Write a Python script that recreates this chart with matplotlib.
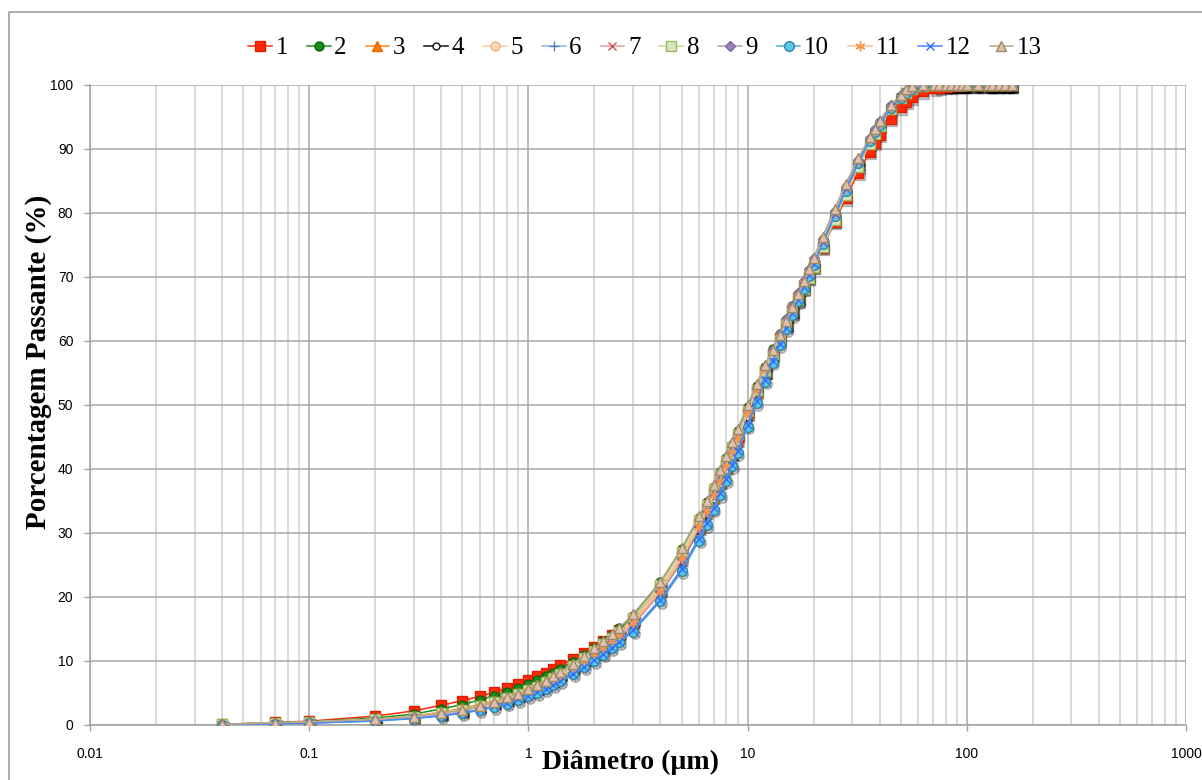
import matplotlib
matplotlib.use("Agg")
import matplotlib.pyplot as plt
import matplotlib.transforms as mtransforms
from matplotlib.lines import Line2D
from matplotlib.ticker import LogLocator, NullFormatter

# Particle size classes (µm)
diametro = [0.04, 0.07, 0.1, 0.2, 0.3, 0.4, 0.5, 0.6, 0.7, 0.8,
            0.9, 1.0, 1.1, 1.2, 1.3, 1.4, 1.6, 1.8, 2.0, 2.2,
            2.4, 2.6, 3.0, 4.0, 5.0, 6.0, 6.5, 7.0, 7.5, 8.0,
            8.5, 9.0, 10, 11, 12, 13, 14, 15, 16, 17,
            18, 19, 20, 22, 25, 28, 32, 36, 38, 40,
            45, 50, 53, 56, 63, 71, 75, 80, 85, 90,
            95, 100, 112, 125, 130, 140, 150, 160]

# Cumulative passing (%) for each sample
s1 = [0.1, 0.4, 0.6, 1.4, 2.2, 3.1, 3.8, 4.5, 5.1, 5.8,
      6.4, 7.0, 7.6, 8.2, 8.8, 9.3, 10.3, 11.3, 12.2, 13.1,
      14.0, 14.9, 16.7, 21.4, 26.4, 31.4, 33.8, 36.2, 38.5, 40.7,
      42.9, 45.0, 48.9, 52.3, 55.3, 58.0, 60.5, 62.7, 64.7, 66.6,
      68.4, 70.0, 71.6, 74.6, 78.6, 82.3, 86.3, 89.6, 91.0, 92.2,
      94.7, 96.5, 97.4, 98.1, 99.0, 99.5, 99.6, 99.7, 99.8, 99.9,
      100, 100, 100, 100, 100, 100, 100, 100]
s2 = [0.1, 0.35, 0.5, 1.1, 1.7, 2.5, 3.2, 3.9, 4.6, 5.2,
      5.8, 6.4, 7.0, 7.6, 8.2, 8.8, 9.9, 11.0, 12.1, 13.1,
      14.1, 15.1, 17.1, 22.3, 27.5, 32.4, 34.8, 37.2, 39.5, 41.7,
      43.8, 45.9, 49.7, 53.0, 56.0, 58.7, 61.1, 63.3, 65.4, 67.3,
      69.2, 71.0, 72.7, 75.8, 80.0, 83.8, 88.0, 91.4, 92.8, 94.0,
      96.5, 98.2, 98.9, 99.4, 99.9, 100, 100, 100, 100, 100,
      100, 100, 100, 100, 100, 100, 100, 100]
s3 = [0.1, 0.3, 0.45, 0.9, 1.4, 2.0, 2.6, 3.2, 3.8, 4.4,
      5.0, 5.6, 6.2, 6.8, 7.4, 8.0, 9.1, 10.2, 11.3, 12.3,
      13.3, 14.2, 16.1, 21.0, 26.0, 30.9, 33.3, 35.7, 38.0, 40.3,
      42.5, 44.6, 48.6, 52.1, 55.2, 57.9, 60.4, 62.7, 64.8, 66.8,
      68.7, 70.5, 72.2, 75.4, 79.7, 83.6, 87.9, 91.3, 92.7, 93.9,
      96.4, 98.1, 98.8, 99.3, 99.8, 100, 100, 100, 100, 100,
      100, 100, 100, 100, 100, 100, 100, 100]
s4 = [0.1, 0.3, 0.4, 0.8, 1.3, 1.8, 2.3, 2.9, 3.4, 4.0,
      4.6, 5.2, 5.8, 6.4, 7.0, 7.6, 8.7, 9.8, 10.8, 11.8,
      12.8, 13.8, 15.7, 20.6, 25.6, 30.5, 32.9, 35.3, 37.6, 39.9,
      42.1, 44.2, 48.2, 51.8, 54.9, 57.7, 60.2, 62.5, 64.6, 66.6,
      68.5, 70.3, 72.0, 75.2, 79.5, 83.4, 87.7, 91.1, 92.5, 93.7,
      96.2, 97.9, 98.7, 99.2, 99.8, 100, 100, 100, 100, 100,
      100, 100, 100, 100, 100, 100, 100, 100]
s5 = [0.1, 0.3, 0.45, 0.9, 1.3, 1.9, 2.4, 3.0, 3.6, 4.2,
      4.8, 5.4, 6.0, 6.6, 7.3, 7.9, 9.1, 10.2, 11.3, 12.4,
      13.4, 14.4, 16.4, 21.4, 26.5, 31.5, 33.9, 36.3, 38.6, 40.9,
      43.1, 45.2, 49.1, 52.6, 55.7, 58.5, 61.0, 63.2, 65.3, 67.3,
      69.2, 71.0, 72.7, 75.9, 80.2, 84.0, 88.2, 91.6, 93.0, 94.2,
      96.7, 98.3, 99.0, 99.5, 100, 100, 100, 100, 100, 100,
      100, 100, 100, 100, 100, 100, 100, 100]
s6 = [0.05, 0.2, 0.3, 0.7, 1.1, 1.5, 1.9, 2.4, 2.9, 3.4,
      4.0, 4.6, 5.1, 5.7, 6.3, 6.9, 8.0, 9.1, 10.1, 11.1,
      12.1, 13.1, 14.9, 19.7, 24.5, 29.3, 31.7, 34.1, 36.4, 38.7,
      40.9, 43.0, 47.1, 50.7, 54.0, 56.9, 59.6, 62.0, 64.2, 66.3,
      68.3, 70.2, 72.0, 75.3, 79.7, 83.6, 87.9, 91.3, 92.7, 93.9,
      96.4, 98.0, 98.8, 99.3, 99.9, 100, 100, 100, 100, 100,
      100, 100, 100, 100, 100, 100, 100, 100]
s7 = [0.1, 0.3, 0.4, 0.8, 1.2, 1.7, 2.2, 2.8, 3.3, 3.9,
      4.5, 5.1, 5.7, 6.3, 6.9, 7.5, 8.6, 9.7, 10.7, 11.7,
      12.7, 13.7, 15.6, 20.6, 25.7, 30.7, 33.1, 35.5, 37.9, 40.2,
      42.4, 44.5, 48.5, 52.0, 55.1, 57.9, 60.4, 62.7, 64.8, 66.8,
      68.7, 70.5, 72.2, 75.4, 79.8, 83.7, 88.0, 91.4, 92.8, 94.0,
      96.5, 98.1, 98.9, 99.4, 99.9, 100, 100, 100, 100, 100,
      100, 100, 100, 100, 100, 100, 100, 100]
s8 = [0.1, 0.3, 0.45, 0.9, 1.3, 1.9, 2.4, 3.0, 3.6, 4.2,
      4.8, 5.4, 6.0, 6.7, 7.3, 8.0, 9.2, 10.4, 11.5, 12.6,
      13.6, 14.6, 16.7, 21.9, 27.0, 32.0, 34.4, 36.8, 39.1, 41.3,
      43.4, 45.4, 49.1, 52.4, 55.3, 57.9, 60.3, 62.5, 64.5, 66.4,
      68.2, 69.9, 71.6, 74.7, 78.9, 82.8, 87.2, 90.8, 92.3, 93.6,
      96.2, 97.9, 98.7, 99.3, 99.9, 100, 100, 100, 100, 100,
      100, 100, 100, 100, 100, 100, 100, 100]
s9 = [0.1, 0.3, 0.4, 0.8, 1.2, 1.7, 2.2, 2.8, 3.3, 3.9,
      4.5, 5.1, 5.7, 6.3, 6.9, 7.5, 8.7, 9.8, 10.9, 11.9,
      12.9, 13.9, 15.9, 20.9, 26.0, 31.0, 33.5, 35.9, 38.3, 40.6,
      42.8, 45.0, 49.0, 52.6, 55.8, 58.6, 61.1, 63.4, 65.5, 67.5,
      69.4, 71.2, 72.9, 76.0, 80.3, 84.1, 88.3, 91.7, 93.1, 94.3,
      96.8, 98.4, 99.1, 99.6, 100, 100, 100, 100, 100, 100,
      100, 100, 100, 100, 100, 100, 100, 100]
s10 = [0.05, 0.2, 0.3, 0.6, 1.0, 1.4, 1.8, 2.3, 2.8, 3.3,
       3.9, 4.5, 5.0, 5.6, 6.2, 6.8, 7.9, 9.0, 10.0, 11.0,
       12.0, 12.9, 14.6, 19.3, 24.0, 28.8, 31.2, 33.6, 35.9, 38.2,
       40.4, 42.5, 46.6, 50.3, 53.6, 56.6, 59.3, 61.8, 64.0, 66.2,
       68.2, 70.1, 71.9, 75.2, 79.6, 83.5, 87.8, 91.2, 92.6, 93.8,
       96.4, 98.0, 98.8, 99.3, 99.9, 100, 100, 100, 100, 100,
       100, 100, 100, 100, 100, 100, 100, 100]
s11 = [0.1, 0.3, 0.4, 0.85, 1.3, 1.8, 2.3, 2.9, 3.5, 4.1,
       4.7, 5.3, 5.9, 6.5, 7.1, 7.7, 8.9, 10.0, 11.1, 12.1,
       13.1, 14.1, 16.0, 21.0, 26.1, 31.1, 33.5, 35.9, 38.2, 40.5,
       42.7, 44.8, 48.8, 52.3, 55.4, 58.2, 60.7, 63.0, 65.1, 67.1,
       69.0, 70.8, 72.5, 75.7, 80.0, 83.9, 88.1, 91.5, 92.9, 94.1,
       96.6, 98.2, 99.0, 99.5, 100, 100, 100, 100, 100, 100,
       100, 100, 100, 100, 100, 100, 100, 100]
s12 = [0.05, 0.2, 0.3, 0.65, 1.05, 1.45, 1.9, 2.4, 2.9, 3.4,
       4.0, 4.6, 5.1, 5.7, 6.3, 6.9, 8.0, 9.1, 10.1, 11.1,
       12.1, 13.0, 14.8, 19.5, 24.3, 29.1, 31.5, 33.9, 36.2, 38.5,
       40.7, 42.8, 46.9, 50.6, 53.9, 56.9, 59.6, 62.1, 64.3, 66.4,
       68.4, 70.3, 72.1, 75.4, 79.8, 83.7, 88.0, 91.4, 92.8, 94.0,
       96.5, 98.1, 98.9, 99.4, 99.9, 100, 100, 100, 100, 100,
       100, 100, 100, 100, 100, 100, 100, 100]
s13 = [0.1, 0.35, 0.5, 0.9, 1.3, 1.9, 2.3, 3.0, 3.6, 4.3,
       4.9, 5.6, 6.2, 6.9, 7.6, 8.3, 9.6, 10.8, 12.0, 13.1,
       14.2, 15.2, 17.3, 22.4, 27.6, 32.6, 35.0, 37.5, 39.8, 42.0,
       44.2, 46.2, 50.0, 53.3, 56.3, 58.6, 61.0, 63.2, 65.3, 67.3,
       69.3, 71.2, 73.0, 76.3, 80.7, 84.5, 88.6, 91.8, 93.2, 94.4,
       96.9, 98.5, 99.3, 99.8, 100, 100, 100, 100, 100, 100,
       100, 100, 100, 100, 100, 100, 100, 100]

amostras = ["1", "2", "3", "4", "5", "6", "7", "8", "9", "10", "11", "12", "13"]
series = [s1, s2, s3, s4, s5, s6, s7, s8, s9, s10, s11, s12, s13]

x_ticks = [0.01, 0.1, 1, 10, 100, 1000]
x_ticklabels = ["0.01", "0.1", "1", "10", "100", "1000"]
y_ticks = list(range(0, 101, 10))

# line colour, marker, marker face, marker edge, marker size
estilos = [
    ("#FF2A0A", "s", "#FF2A0A", "#E01E00", 6.5),
    ("#1F8F1F", "o", "#1A8A1A", "#106010", 6.5),
    ("#FF8A1E", "^", "#FF7A00", "#E06A00", 7.0),
    ("#111111", "o", "#FFFFFF", "#111111", 5.0),
    ("#FFCBA0", "o", "#FFD7B5", "#F0B080", 6.5),
    ("#8EB4E3", "+", "#4F81BD", "#4F81BD", 6.5),
    ("#E6A0A0", "x", "#D05050", "#D05050", 6.0),
    ("#C4D79B", "s", "#D7E4BD", "#9BBB59", 6.5),
    ("#B3A2C7", "D", "#9A82BE", "#8064A2", 5.0),
    ("#4BACC6", "o", "#5CC8E8", "#31859C", 7.0),
    ("#FAC090", (6, 2, 0), "#F79646", "#F79646", 7.0),
    ("#4A86FF", "x", "#2F6FFF", "#2F6FFF", 6.0),
    ("#B7A887", "^", "#E2BFB0", "#9C8A64", 7.5),
]

plt.rcParams["font.family"] = ["Liberation Sans", "DejaVu Sans"]
serif = ["Liberation Serif", "DejaVu Serif"]

fig = plt.figure(figsize=(12.02, 7.80), dpi=100)
ax = fig.add_axes([90 / 1202, 55 / 780, (1186 - 90) / 1202, (725 - 85) / 780])

# soft drop shadow under the markers
shadow_tr = mtransforms.offset_copy(ax.transData, fig=fig, x=1.2, y=-1.8, units="points")

for nome, ys, (lc, mk, mfc, mec, ms) in zip(amostras, series, estilos):
    ax.plot(diametro, ys, linestyle="none", marker=mk, markersize=ms,
            color="black", markeredgewidth=1.0, alpha=0.22,
            transform=shadow_tr, zorder=2)
    ax.plot(diametro, ys, color=lc, linewidth=1.1, marker=mk, markersize=ms,
            markerfacecolor=mfc, markeredgecolor=mec, markeredgewidth=1.0,
            label=nome, zorder=3)

ax.set_xscale("log")
ax.set_xlim(0.01, 1000)
ax.set_ylim(0, 100)
ax.set_xticks(x_ticks)
ax.set_xticklabels(x_ticklabels)
ax.xaxis.set_minor_locator(LogLocator(base=10, subs=range(2, 10), numticks=20))
ax.xaxis.set_minor_formatter(NullFormatter())
ax.set_yticks(y_ticks)

ax.grid(True, which="major", axis="both", color="#A8A8A8", linewidth=1.1, zorder=0)
ax.grid(True, which="minor", axis="x", color="#D0D0D0", linewidth=1.1, zorder=0)
ax.set_axisbelow(True)

for lado in ("top", "right"):
    ax.spines[lado].set_visible(False)
for lado in ("left", "bottom"):
    ax.spines[lado].set_color("#A0A0A0")
    ax.spines[lado].set_linewidth(1.1)

ax.tick_params(axis="both", which="major", direction="out", length=4, width=1.0,
               color="#A0A0A0", labelsize=10, labelcolor="#000000")
ax.tick_params(axis="x", which="major", pad=12)
ax.tick_params(axis="y", which="major", pad=8)
ax.tick_params(axis="x", which="minor", length=0)

ax.set_xlabel("Diâmetro (µm)", fontsize=20, fontweight="bold", family=serif)
ax.set_ylabel("Porcentagem Passante (%)", fontsize=21, fontweight="bold", family=serif)
ax.xaxis.set_label_coords((631 - 90) / 1096, -(750 - 725) / 640)
ax.yaxis.set_label_coords(-(90 - 52) / 1096, (725 - 362) / 640)

fig.legend(loc="center", bbox_to_anchor=(645 / 1202, 1 - 48 / 780), ncol=13,
           frameon=False, handlelength=0.95, handletextpad=0.15, columnspacing=0.75,
           prop={"family": serif, "size": 18})

# chart frame (left and top edges)
fig.add_artist(Line2D([9 / 1202, 9 / 1202, 1.0], [0.0, 1 - 12 / 780, 1 - 12 / 780],
                      transform=fig.transFigure, color="#A0A0A0", linewidth=1.2))

fig.savefig("out.png", dpi=100)
